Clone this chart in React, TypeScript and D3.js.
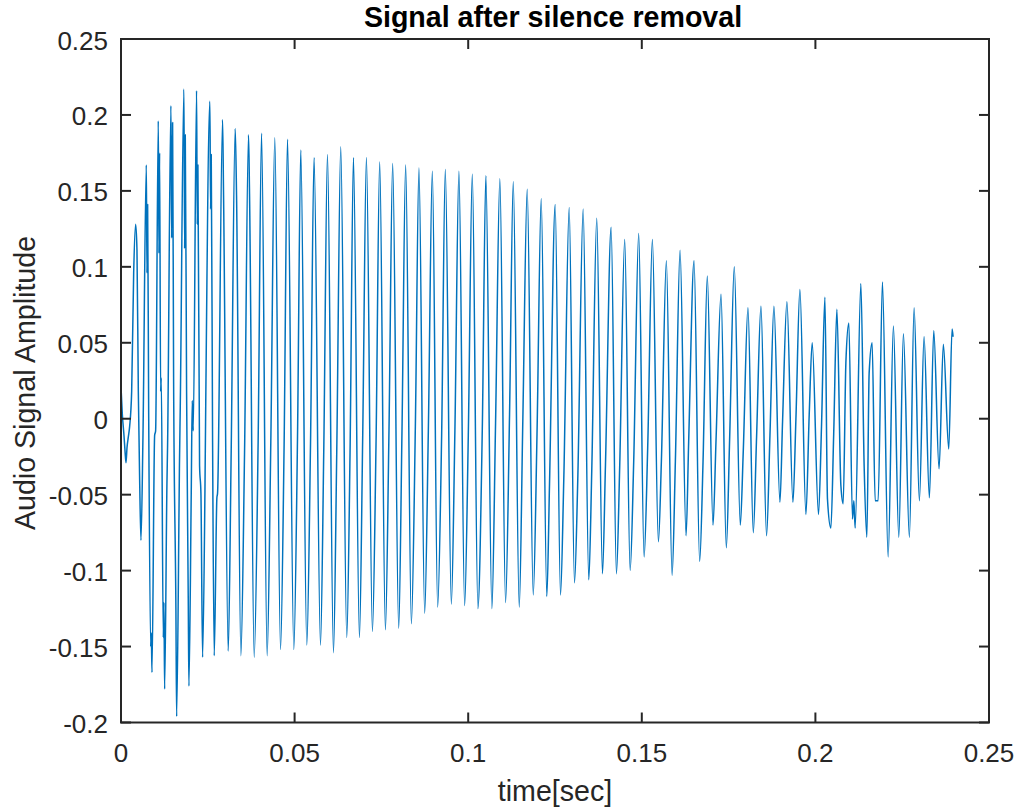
import React from "react";
import * as d3 from "d3";

// ---- Data (time in milliseconds, amplitude) ----
// Onset segment (irregular first cycles)
const onsetMs = [0.00,0.38,0.86,1.15,1.44,1.73,2.11,2.49,3.07,3.65,4.22,4.60,4.99,5.37,5.75,6.33,7.29,7.48,7.67,7.96,8.54,8.73,8.92,9.69,9.97,10.74,10.93,11.12,11.41,11.60,12.18,12.37,12.56,13.23,13.42,14.38,14.58,14.86,15.15,15.82,16.02,16.88,17.07,18.12,18.32,18.51,18.89,19.37,19.56,20.23,20.52,20.81,21.77,21.96,22.15,22.63,23.02,23.50,24.17,24.36,25.60,25.80,25.99,26.37,26.85,27.62,27.81,29.25,29.54,30.88,31.74,32.89,33.28,34.52,35.58,36.73,37.02,38.36];
const onsetAmp = [0.021,0.003,-0.011,-0.021,-0.029,-0.019,-0.012,-0.005,0.018,0.096,0.128,0.111,0.018,-0.040,-0.080,-0.011,0.167,0.096,0.141,0.009,-0.150,-0.141,-0.167,-0.011,-0.008,0.196,0.109,0.175,0.018,0.027,-0.144,-0.121,-0.178,-0.043,-0.017,0.206,0.119,0.195,0.027,-0.127,-0.196,-0.023,0.008,0.217,0.112,0.187,0.018,-0.118,-0.176,-0.049,0.012,-0.008,0.216,0.128,0.167,-0.031,-0.049,-0.157,-0.049,-0.002,0.209,0.138,0.174,-0.011,-0.156,-0.052,-0.049,0.197,0.147,-0.153,-0.021,0.191,0.147,-0.156,-0.023,0.187,0.148,-0.157];

// Sustained cycles: shoulder on the rising edge, peak, trough
const shoulderMs = [39.50,43.15,46.98,50.83,54.58,58.40,62.14,65.97,69.62,73.45,77.19,80.93,84.78,88.52,92.35,96.17,100.03,104.06,107.88,111.91,115.74,119.82,123.42,127.53,131.56,135.59,139.53,143.64,147.67,151.70,155.64,159.67,163.50,167.64,171.38,175.29,179.23,183.06,186.91,190.54,194.39,198.22];
const shoulderAmp = [-0.015,-0.015,-0.017,-0.014,-0.017,-0.021,-0.022,-0.022,-0.011,-0.017,-0.007,-0.008,-0.005,-0.008,-0.011,-0.008,-0.011,-0.007,-0.003,0.003,0.000,-0.010,-0.043,-0.040,-0.040,-0.034,-0.031,-0.031,-0.028,-0.019,-0.028,-0.028,-0.015,-0.028,-0.014,-0.014,-0.021,-0.012,-0.011,-0.002,0.000,0.003];
const peakMs = [40.48,44.30,47.96,51.78,55.61,59.47,63.29,66.95,70.69,74.51,78.25,81.99,85.82,89.67,93.41,97.33,101.18,105.09,109.12,112.98,117.00,121.03,125.06,129.09,133.11,137.03,141.17,145.08,149.11,153.05,157.08,161.02,165.05,168.87,172.82,176.64,180.58,184.32,188.06,191.80,195.54,199.08];
const peakAmp = [0.188,0.185,0.184,0.177,0.172,0.174,0.179,0.172,0.172,0.169,0.168,0.167,0.165,0.163,0.164,0.163,0.161,0.160,0.158,0.156,0.151,0.145,0.141,0.139,0.138,0.132,0.126,0.118,0.122,0.118,0.104,0.111,0.104,0.094,0.082,0.100,0.073,0.074,0.074,0.077,0.085,0.050];
const troughMs = [42.09,45.94,49.77,53.51,57.45,61.19,65.02,68.67,72.41,76.15,79.98,83.63,87.46,91.20,95.14,98.97,102.79,106.82,110.76,114.70,118.73,122.64,126.58,130.61,134.73,138.67,142.69,146.64,150.66,154.78,158.72,162.75,166.66,170.51,174.34,178.37,182.11,185.93,189.79,193.53,197.27,200.89];
const troughAmp = [-0.156,-0.152,-0.152,-0.149,-0.149,-0.154,-0.144,-0.144,-0.140,-0.139,-0.138,-0.135,-0.128,-0.124,-0.122,-0.123,-0.125,-0.125,-0.121,-0.124,-0.116,-0.117,-0.116,-0.108,-0.106,-0.102,-0.102,-0.100,-0.091,-0.081,-0.103,-0.077,-0.094,-0.070,-0.085,-0.070,-0.075,-0.077,-0.055,-0.055,-0.063,-0.063];

// Tail segment (irregular last cycles)
const tailMs = [201.76,202.74,203.48,204.46,205.27,206.19,207.34,208.00,208.78,209.64,210.68,211.08,211.45,213.09,214.04,214.82,215.48,216.34,217.21,218.07,219.31,220.95,222.47,224.02,225.35,227.07,228.43,229.95,231.30,232.83,234.09,235.62,236.85,238.41,239.36,239.65];
const tailAmp = [-0.005,0.080,-0.053,-0.072,-0.010,0.072,-0.044,-0.056,0.037,0.063,-0.066,-0.054,-0.072,0.089,-0.031,-0.078,0.030,0.050,-0.054,-0.054,0.090,-0.091,0.061,-0.078,0.056,-0.078,0.073,-0.054,0.054,-0.052,0.058,-0.033,0.049,-0.020,0.059,0.054];

// Axis ticks
const xTicks = [0, 0.05, 0.1, 0.15, 0.2, 0.25];
const xTickLabels = ["0", "0.05", "0.1", "0.15", "0.2", "0.25"];
const yTicks = [-0.2, -0.15, -0.1, -0.05, 0, 0.05, 0.1, 0.15, 0.2, 0.25];
const yTickLabels = ["-0.2", "-0.15", "-0.1", "-0.05", "0", "0.05", "0.1", "0.15", "0.2", "0.25"];

const TITLE = "Signal after silence removal";
const X_LABEL = "time[sec]";
const Y_LABEL = "Audio Signal Amplitude";

// ---- Layout ----
const W = 1021;
const H = 809;
const L = 121, R = 989, T = 39, B = 722.5;
const AX = "#262626";
const LINE = "#0072BD";
const FONT = "'Liberation Sans', Arial, Helvetica, sans-serif";
const TICK_FS = 26;
const LABEL_FS = 28.6;
const TICK_LEN = 10;

export default function App() {
  const x = d3.scaleLinear().domain([0, 0.25]).range([L, R]);
  const y = d3.scaleLinear().domain([-0.2, 0.25]).range([B, T]);

  const pts: [number, number][] = [];
  onsetMs.forEach((t, i) => pts.push([t / 1000, onsetAmp[i]]));
  peakMs.forEach((_, i) => {
    pts.push([shoulderMs[i] / 1000, shoulderAmp[i]]);
    pts.push([peakMs[i] / 1000, peakAmp[i]]);
    pts.push([troughMs[i] / 1000, troughAmp[i]]);
  });
  tailMs.forEach((t, i) => pts.push([t / 1000, tailAmp[i]]));

  const line = d3
    .line<[number, number]>()
    .x((d) => x(d[0]))
    .y((d) => y(d[1]))
    .curve(d3.curveMonotoneX);

  return (
    <svg
      width={W}
      height={H}
      style={{ position: "absolute", left: 0, top: 0, background: "#fff" }}
      fontFamily={FONT}
    >
      <rect x={0} y={0} width={W} height={H} fill="#fff" />
      <path d={line(pts) || ""} fill="none" stroke={LINE} strokeWidth={1.5} strokeLinejoin="round" />

      {/* box */}
      <rect x={L} y={T} width={R - L} height={B - T} fill="none" stroke={AX} strokeWidth={2} />

      {/* x ticks (bottom and top, inward) */}
      {xTicks.map((v, i) => (
        <g key={"xt" + i}>
          <line x1={x(v)} x2={x(v)} y1={B} y2={B - TICK_LEN} stroke={AX} strokeWidth={2} />
          <line x1={x(v)} x2={x(v)} y1={T} y2={T + TICK_LEN} stroke={AX} strokeWidth={2} />
          <text x={x(v)} y={762} textAnchor="middle" fontSize={TICK_FS} fill={AX}>
            {xTickLabels[i]}
          </text>
        </g>
      ))}

      {/* y ticks (left and right, inward) */}
      {yTicks.map((v, i) => (
        <g key={"yt" + i}>
          <line x1={L} x2={L + TICK_LEN} y1={y(v)} y2={y(v)} stroke={AX} strokeWidth={2} />
          <line x1={R} x2={R - TICK_LEN} y1={y(v)} y2={y(v)} stroke={AX} strokeWidth={2} />
          <text x={108} y={y(v) + 10.5} textAnchor="end" fontSize={TICK_FS} fill={AX}>
            {yTickLabels[i]}
          </text>
        </g>
      ))}

      {/* title */}
      <text x={(L + R) / 2 - 2} y={27} textAnchor="middle" fontSize={LABEL_FS} fontWeight="bold" fill="#000">
        {TITLE}
      </text>

      {/* x label */}
      <text x={(L + R) / 2} y={801} textAnchor="middle" fontSize={LABEL_FS} fill={AX}>
        {X_LABEL}
      </text>

      {/* y label */}
      <text
        transform={`translate(35, 383) rotate(-90)`}
        textAnchor="middle"
        fontSize={LABEL_FS}
        fill={AX}
      >
        {Y_LABEL}
      </text>
    </svg>
  );
}
